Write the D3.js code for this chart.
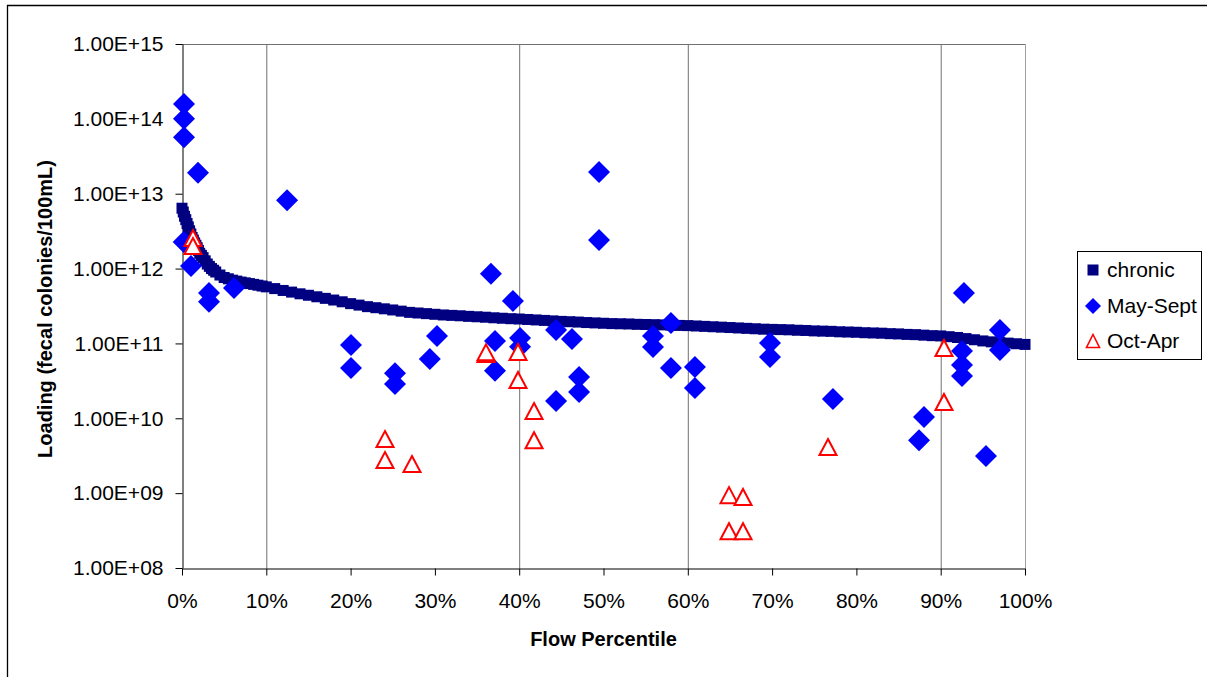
<!DOCTYPE html>
<html><head><meta charset="utf-8">
<script src="https://cdn.jsdelivr.net/npm/d3@7"></script>
<style>
body{margin:0;background:#fff}
svg{display:block}
text{font-family:"Liberation Sans",Arial,Helvetica,sans-serif;fill:#000}
</style>
</head><body>
<svg id="chart" width="1207" height="677"></svg>
<script>
// ---- data ----
const xTicks = [0,10,20,30,40,50,60,70,80,90,100];
const xTickLabels = ["0%","10%","20%","30%","40%","50%","60%","70%","80%","90%","100%"];
const yTicks = [1e8,1e9,1e10,1e11,1e12,1e13,1e14,1e15];
const yTickLabels = ["1.00E+08","1.00E+09","1.00E+10","1.00E+11","1.00E+12","1.00E+13","1.00E+14","1.00E+15"];
const gridPercents = [10,40,60,90];
const seriesNames = ["chronic","May-Sept","Oct-Apr"];
const xTitle = "Flow Percentile";
const yTitle = "Loading (fecal colonies/100mL)";

const chronicPct = [0,0.15,0.3,0.45,0.6,0.75,0.9,1.05,1.2,1.35,1.5,1.65,1.8,1.95,2.1,2.3,2.5,2.75,3,3.25,3.5,3.75,4,4.5,5,5.5,6,6.5,7,7.5,8,8.5,9,9.5,10,
  11,12,13,14,15,16,17,18,19,20,
  21,22,23,24,25,26,27,28,29,30,31,32,33,34,35,36,37,38,39,40,41,42,43,44,45,46,47,48,49,50,
  51,52,53,54,55,56,57,58,59,60,61,62,63,64,65,66,67,68,69,70,71,72,73,74,75,76,77,78,79,80,
  81,82,83,84,85,86,87,88,89,90,91,92,93,94,95,96,97,98,99,100];
const chronicLoad = [6.4e12,5.7e12,5.0e12,4.5e12,4.0e12,3.6e12,3.2e12,2.9e12,2.6e12,2.4e12,2.2e12,2.05e12,1.9e12,1.75e12,1.6e12,1.5e12,1.4e12,1.27e12,1.15e12,1.07e12,1.0e12,9.5e11,9.0e11,8.2e11,7.6e11,7.3e11,7.0e11,6.8e11,6.6e11,6.45e11,6.3e11,6.15e11,6.0e11,5.85e11,5.7e11,
  5.4e11,5.1e11,4.85e11,4.6e11,4.4e11,4.2e11,4.0e11,3.8e11,3.6e11,3.4e11,
  3.25e11,3.1e11,3.0e11,2.9e11,2.8e11,2.7e11,2.6e11,2.55e11,2.5e11,2.45e11,2.4e11,2.37e11,2.34e11,2.3e11,2.27e11,2.24e11,2.2e11,2.17e11,2.14e11,2.12e11,2.09e11,2.06e11,2.03e11,2.0e11,1.97e11,1.95e11,1.93e11,1.9e11,1.88e11,1.86e11,
  1.84e11,1.83e11,1.82e11,1.8e11,1.79e11,1.78e11,1.77e11,1.76e11,1.74e11,1.73e11,1.71e11,1.69e11,1.67e11,1.65e11,1.63e11,1.61e11,1.59e11,1.57e11,1.55e11,1.54e11,1.53e11,1.52e11,1.5e11,1.49e11,1.47e11,1.46e11,1.45e11,1.43e11,1.42e11,1.41e11,
  1.39e11,1.38e11,1.37e11,1.35e11,1.34e11,1.32e11,1.31e11,1.29e11,1.27e11,1.26e11,1.23e11,1.2e11,1.16e11,1.12e11,1.08e11,1.05e11,1.03e11,1.01e11,9.9e10,9.7e10];

const maySeptPct = [0.24,0.24,0.24,1.9,12.46,0.2,1.07,3.2,3.2,6.17,20.05,20.05,25.27,25.27,29.4,30.25,49.47,49.47,
  36.65,39.26,37.13,37.13,40.1,40.1,44.37,46.26,47.1,47.1,44.37,58.0,55.87,55.87,58.0,60.85,60.85,69.75,69.75,77.22,
  92.76,97.03,97.03,92.53,92.53,92.53,88.02,87.43,95.37];
const maySeptLoad = [1.58e14,1.0e14,5.7e13,1.9e13,8.2e12,2.26e12,1.08e12,4.7e11,3.6e11,5.5e11,9.5e10,4.7e10,4.0e10,2.87e10,6.2e10,1.26e11,1.95e13,2.41e12,
  8.5e11,3.7e11,1.08e11,4.3e10,1.18e11,9.0e10,1.51e11,1.15e11,3.56e10,2.24e10,1.7e10,1.87e11,1.26e11,8.95e10,4.7e10,4.84e10,2.54e10,1.01e11,6.6e10,1.81e10,
  4.72e11,1.51e11,8.17e10,7.9e10,5.15e10,3.67e10,1.04e10,5.1e9,3.13e9];

const octAprPct = [1.3,1.3,24.08,24.08,27.28,36.06,36.06,39.86,39.86,41.76,41.76,64.89,66.55,64.89,66.55,76.63,90.39,90.39];
const octAprLoad = [2.56e12,2.0e12,5.28e9,2.77e9,2.45e9,7.2e10,7.6e10,7.7e10,3.25e10,1.25e10,5.1e9,9.4e8,8.9e8,3.1e8,3.1e8,4.13e9,8.7e10,1.65e10];

// ---- layout ----
const svg = d3.select("#chart");
const L = 182, R = 1025, T = 44, B = 568;
const x = d3.scaleLinear().domain([0,100]).range([L,R]);
const y = d3.scaleLog().domain([1e8,1e15]).range([B,T]);

// outer chart border
svg.append("path").attr("d","M7.5,690 L7.5,5.5 L1220,5.5").attr("fill","none").attr("stroke","#000").attr("stroke-width",1.3);

// gridlines
svg.append("g").selectAll("line").data(gridPercents).join("line")
  .attr("x1",d=>x(d)+0.5).attr("x2",d=>x(d)+0.5).attr("y1",T).attr("y2",B)
  .attr("stroke","#707070").attr("stroke-width",1);
// plot frame top / right
svg.append("line").attr("x1",L).attr("x2",R).attr("y1",T+0.5).attr("y2",T+0.5).attr("stroke","#707070");
svg.append("line").attr("x1",R+0.5).attr("x2",R+0.5).attr("y1",T).attr("y2",B).attr("stroke","#a0a0a0");

// axes
const yAxis = svg.append("g").attr("transform",`translate(${L+0.5},0)`)
  .call(d3.axisLeft(y).tickValues(yTicks).tickFormat((d,i)=>yTickLabels[i]).tickSize(7).tickSizeOuter(0).tickPadding(12));
const xAxis = svg.append("g").attr("transform",`translate(0,${B+0.5})`)
  .call(d3.axisBottom(x).tickValues(xTicks).tickFormat((d,i)=>xTickLabels[i]).tickSize(7).tickSizeOuter(0).tickPadding(18));
[yAxis,xAxis].forEach(g=>{
  g.selectAll("text").attr("font-size",21).attr("font-family","Liberation Sans, Arial, sans-serif").attr("fill","#000");
  g.select(".domain").attr("stroke","#000");
  g.selectAll(".tick line").attr("stroke","#000");
});

// titles
svg.append("text").attr("x",(L+R)/2).attr("y",646).attr("text-anchor","middle")
  .attr("font-size",20).attr("font-weight","bold").text(xTitle);
svg.append("text").attr("transform","translate(52,309) rotate(-90)").attr("text-anchor","middle")
  .attr("font-size",20).attr("font-weight","bold").text(yTitle);

// marker shapes
const diamond = r => `M0,${-r}L${r},0L0,${r}L${-r},0Z`;
const tri = (w,h) => `M0,${-h/2}L${w/2},${h/2}L${-w/2},${h/2}Z`;

// clip to plot
svg.append("defs").append("clipPath").attr("id","clip").append("rect")
  .attr("x",L-12).attr("y",T-12).attr("width",R-L+24).attr("height",B-T+24);
const plot = svg.append("g").attr("clip-path","url(#clip)");

// chronic squares
const chronic = chronicPct.map((p,i)=>({p, v: chronicLoad[i]}));
const sq = 11;
plot.append("g").selectAll("rect").data(chronic).join("rect")
  .attr("x",d=>x(d.p)-sq/2).attr("y",d=>y(d.v)-sq/2).attr("width",sq).attr("height",sq)
  .attr("fill","#000080");

// May-Sept diamonds
const ms = maySeptPct.map((p,i)=>({p, v: maySeptLoad[i]}));
plot.append("g").selectAll("path").data(ms).join("path")
  .attr("transform",d=>`translate(${x(d.p)},${y(d.v)})`)
  .attr("d",diamond(11)).attr("fill","#0000ff");

// Oct-Apr triangles
const oa = octAprPct.map((p,i)=>({p, v: octAprLoad[i]}));
plot.append("g").selectAll("path").data(oa).join("path")
  .attr("transform",d=>`translate(${x(d.p)},${y(d.v)})`)
  .attr("d",tri(17,16)).attr("fill","#fff").attr("stroke","#ff0000").attr("stroke-width",2);

// legend
const lg = svg.append("g");
lg.append("rect").attr("x",1077.5).attr("y",251.5).attr("width",124).attr("height",108)
  .attr("fill","#fff").attr("stroke","#000").attr("stroke-width",1);
const ly = [270,306,341];
lg.append("rect").attr("x",1093-5.5).attr("y",ly[0]-5.5).attr("width",11).attr("height",11).attr("fill","#000080");
lg.append("path").attr("transform",`translate(1093,${ly[1]})`).attr("d",diamond(8)).attr("fill","#0000ff");
lg.append("path").attr("transform",`translate(1093,${ly[2]})`).attr("d",tri(13,13)).attr("fill","#fff").attr("stroke","#ff0000").attr("stroke-width",1.6);
lg.selectAll("text.lt").data(seriesNames).join("text").attr("class","lt")
  .attr("x",1107).attr("y",(d,i)=>ly[i]).attr("dy","0.35em").attr("font-size",21).text(d=>d);
</script>
</body></html>
